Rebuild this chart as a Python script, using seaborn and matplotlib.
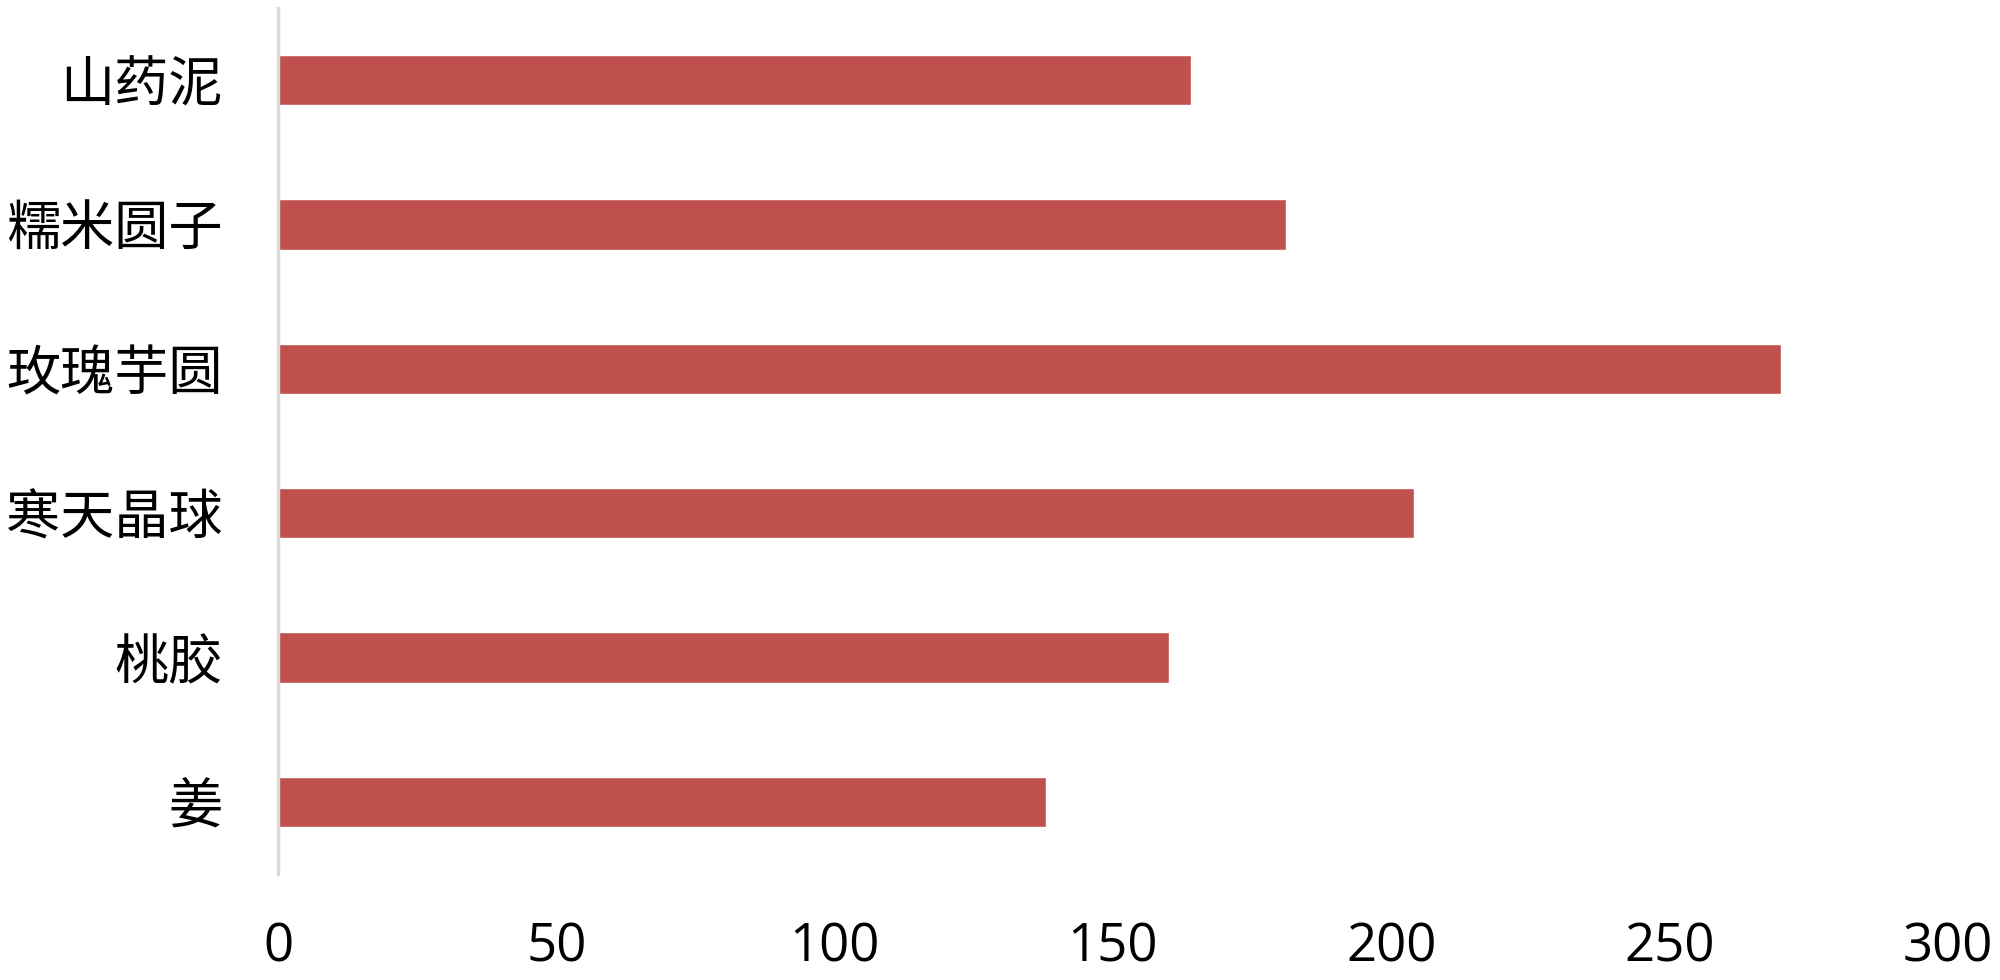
import matplotlib
matplotlib.use("Agg")
import matplotlib.pyplot as plt
import seaborn as sns
import pandas as pd

categories = ["山药泥", "糯米圆子", "玫瑰芋圆", "寒天晶球", "桃胶", "姜"]
values = [164, 181, 270, 204, 160, 138]
x_ticks = [0, 50, 100, 150, 200, 250, 300]

sns.set_theme(style="white")
plt.rcParams['font.family'] = ['Noto Sans CJK SC', 'DejaVu Sans']

df = pd.DataFrame({"item": categories, "value": values})

fig = plt.figure(figsize=(20, 9.8), dpi=100)
ax = fig.add_axes([0.139, 0.108, 0.835, 0.884])
sns.barplot(data=df, y="item", x="value", orient="h", color="#C0504D",
            width=0.35, saturation=1, ax=ax)

ax.set_xlim(0, 300)
ax.set_ylim(5.5, -0.5)
ax.set_xticks(x_ticks)
ax.set_xticklabels([str(t) for t in x_ticks], family=['Open Sans', 'DejaVu Sans'])
ax.set_xlabel("")
ax.set_ylabel("")
for s in ["top", "right", "bottom"]:
    ax.spines[s].set_visible(False)
ax.spines["left"].set_color("#D9D9D9")
ax.spines["left"].set_linewidth(2.5)
ax.tick_params(axis="x", length=0, pad=34, labelsize=38, labelcolor="black")
ax.tick_params(axis="y", length=0, pad=40, labelsize=39, labelcolor="black")
ax.grid(False)

fig.savefig("out.png", dpi=100, facecolor="white")
